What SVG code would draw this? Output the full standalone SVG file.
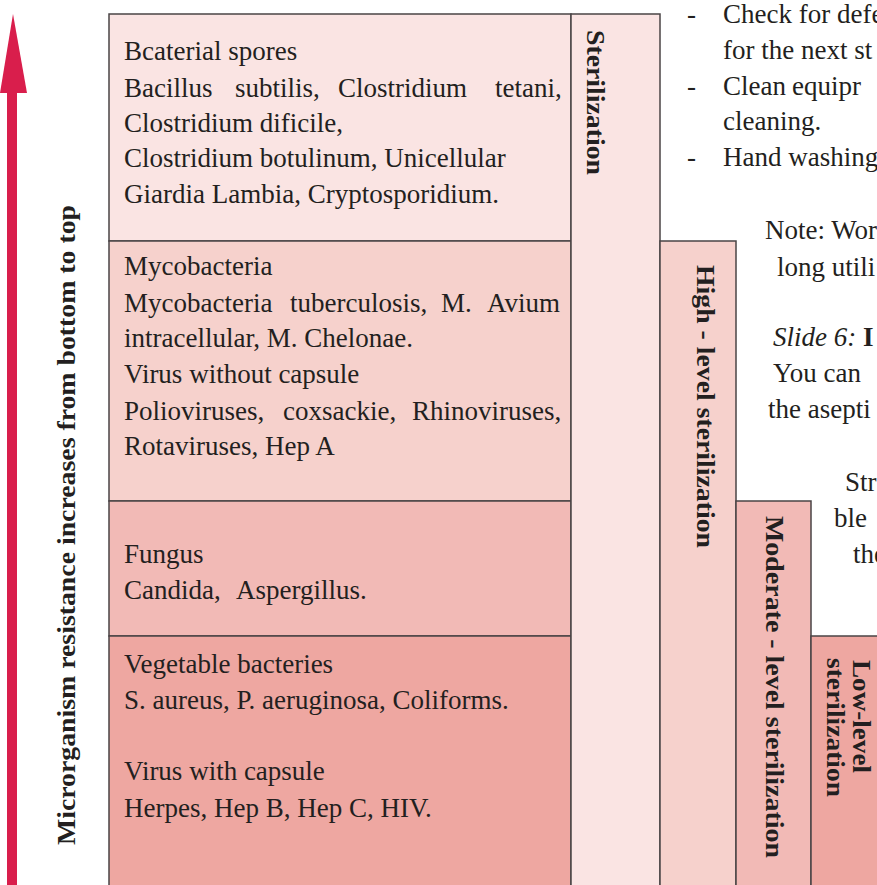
<svg xmlns="http://www.w3.org/2000/svg" width="877" height="885" viewBox="0 0 877 885">
<style>
.box{stroke:#4a4446;stroke-width:1.5}
.t{font-family:"Liberation Serif","Times New Roman",serif;font-size:27px;fill:#231f20}
.b{font-family:"Liberation Serif","Times New Roman",serif;font-size:26px;font-weight:bold;fill:#231f20}
.c1{fill:#fae4e3}.c2{fill:#f6d1cc}.c3{fill:#f2bab6}.c4{fill:#eea7a1}
</style>
<rect width="877" height="885" fill="#ffffff"/>
<g id="axis">
<rect x="7" y="90" width="10" height="800" fill="#d91e4c"/>
<polygon points="13,14 27,93 0,93" fill="#d91e4c"/>
<text class="b" transform="translate(75,845) rotate(-90)" font-size="31" textLength="640" lengthAdjust="spacingAndGlyphs">Microrganism resistance increases from bottom to top</text>
</g>
<g id="row-spores">
<rect class="box c1" x="109" y="14" width="462" height="227"/>
<text class="t" x="124" y="60">Bcaterial spores</text>
<text class="t" y="97"><tspan x="124">Bacillus</tspan><tspan x="235">subtilis,</tspan><tspan x="338">Clostridium</tspan><tspan x="495">tetani,</tspan></text>
<text class="t" x="124" y="132">Clostridium dificile,</text>
<text class="t" x="124" y="167">Clostridium botulinum, Unicellular</text>
<text class="t" x="124" y="203">Giardia Lambia, Cryptosporidium.</text>
</g>
<g id="row-mycobacteria">
<rect class="box c2" x="109" y="241" width="462" height="260"/>
<text class="t" x="124" y="275">Mycobacteria</text>
<text class="t" y="312"><tspan x="124">Mycobacteria</tspan><tspan x="290">tuberculosis,</tspan><tspan x="441">M.</tspan><tspan x="487">Avium</tspan></text>
<text class="t" x="124" y="347">intracellular, M. Chelonae.</text>
<text class="t" x="124" y="383">Virus without capsule</text>
<text class="t" y="420"><tspan x="124">Polioviruses,</tspan><tspan x="283">coxsackie,</tspan><tspan x="412">Rhinoviruses,</tspan></text>
<text class="t" x="124" y="455">Rotaviruses, Hep A</text>
</g>
<g id="row-fungus">
<rect class="box c3" x="109" y="501" width="462" height="135"/>
<text class="t" x="124" y="563">Fungus</text>
<text class="t" y="599"><tspan x="124">Candida,</tspan><tspan x="236">Aspergillus.</tspan></text>
</g>
<g id="row-vegetative">
<rect class="box c4" x="109" y="636" width="462" height="260"/>
<text class="t" x="124" y="673">Vegetable bacteries</text>
<text class="t" x="124" y="709">S. aureus, P. aeruginosa, Coliforms.</text>
<text class="t" x="124" y="780">Virus with capsule</text>
<text class="t" x="124" y="817">Herpes, Hep B, Hep C, HIV.</text>
</g>
<g id="col-sterilization">
<rect class="box c1" x="571" y="14" width="89" height="882"/>
<text class="b" transform="translate(587,30) rotate(90)" textLength="145" lengthAdjust="spacingAndGlyphs">Sterilization</text>
</g>
<g id="col-high">
<rect class="box c2" x="660" y="241" width="76" height="655"/>
<text class="b" transform="translate(697,265) rotate(90)" textLength="283" lengthAdjust="spacingAndGlyphs">High - level sterilization</text>
</g>
<g id="col-moderate">
<rect class="box c3" x="736" y="501" width="75" height="395"/>
<text class="b" transform="translate(766,516) rotate(90)" textLength="342" lengthAdjust="spacingAndGlyphs">Moderate - level sterilization</text>
</g>
<g id="col-low">
<rect class="box c4" x="811" y="636" width="80" height="260"/>
<text class="b" transform="translate(853,660) rotate(90)" textLength="113" lengthAdjust="spacingAndGlyphs">Low-level</text>
<text class="b" transform="translate(827,658) rotate(90)" textLength="139" lengthAdjust="spacingAndGlyphs">sterilization</text>
</g>
<g id="page-text">
<text class="t" x="687" y="23">-</text>
<text class="t" x="723" y="23">Check for defe</text>
<text class="t" x="723" y="59">for the next st</text>
<text class="t" x="687" y="95">-</text>
<text class="t" y="95"><tspan x="723">Clean</tspan><tspan x="792">equipr</tspan></text>
<text class="t" x="723" y="130">cleaning.</text>
<text class="t" x="687" y="166">-</text>
<text class="t" x="723" y="166">Hand washing</text>
<text class="t" x="765" y="239">Note: Wor</text>
<text class="t" x="777" y="276">long utili</text>
<text class="t" x="773" y="346"><tspan font-style="italic">Slide 6:</tspan> <tspan font-weight="bold">I</tspan></text>
<text class="t" x="773" y="382">You can</text>
<text class="t" x="768" y="418">the asepti</text>
<text class="t" x="845" y="491">Str</text>
<text class="t" x="834" y="527">ble</text>
<text class="t" x="853" y="563">the</text>
</g>
</svg>
